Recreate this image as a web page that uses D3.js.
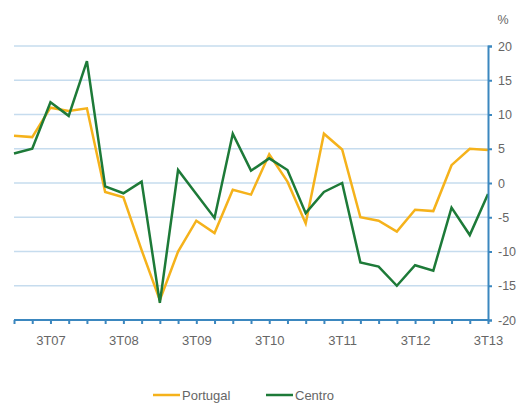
<!DOCTYPE html>
<html>
<head>
<meta charset="utf-8">
<script src="https://cdn.jsdelivr.net/npm/d3@7"></script>
<style>
  body { margin: 0; background: #fff; }
  svg { display: block; font-family: "Liberation Sans", Arial, sans-serif; }
</style>
</head>
<body>
<div id="chart"></div>
<script>
// quarters 1T07 .. 3T13
const quarters = [];
for (let y = 7; y <= 13; y++) {
  for (let q = 1; q <= 4; q++) {
    if (y === 13 && q > 3) break;
    quarters.push(q + 'T' + String(y).padStart(2, '0'));
  }
}
const tickLabels = ['3T07', '3T08', '3T09', '3T10', '3T11', '3T12', '3T13'];
const yTicks = [20, 15, 10, 5, 0, -5, -10, -15, -20];

const portugal = [6.9, 6.7, 11.0, 10.5, 10.9, -1.3, -2.1, -9.8, -17.1, -10.0, -5.5, -7.3, -1.0, -1.7,
  4.2, 0.2, -5.9, 7.2, 4.9, -5.0, -5.5, -7.1, -3.9, -4.1, 2.6, 5.0, 4.8];
const centro = [4.3, 5.0, 11.8, 9.8, 17.8, -0.5, -1.5, 0.2, -17.5, 1.9, -1.6, -5.1, 7.2, 1.8,
  3.6, 1.9, -4.4, -1.3, 0.0, -11.6, -12.2, -15.0, -12.0, -12.8, -3.6, -7.6, -1.6];

const series = [
  { name: 'Portugal', values: portugal, color: '#f5b21b' },
  { name: 'Centro', values: centro, color: '#1d7a38' }
];

const W = 520, H = 405;
const margin = { top: 46, right: 32, bottom: 85, left: 14 };
const width = W - margin.left - margin.right;
const height = H - margin.top - margin.bottom;
const axisColor = '#3b87bf';
const textColor = '#666';

const svg = d3.select('#chart').append('svg')
  .attr('width', W).attr('height', H);
const g = svg.append('g')
  .attr('transform', 'translate(' + margin.left + ',' + margin.top + ')');

const x = d3.scalePoint().domain(quarters).range([0, width]);
const y = d3.scaleLinear().domain([-20, 20]).range([height, 0]);

// gridlines
g.selectAll('.grid').data(yTicks.filter(d => d > -20)).enter()
  .append('line')
  .attr('x1', 0).attr('x2', width)
  .attr('y1', d => y(d)).attr('y2', d => y(d))
  .attr('stroke', '#c6dcee').attr('stroke-width', 1.5);

// lines
const line = d3.line().x((d, i) => x(quarters[i])).y(d => y(d));
series.forEach(s => {
  g.append('path')
    .datum(s.values)
    .attr('fill', 'none')
    .attr('stroke', s.color)
    .attr('stroke-width', 2.5)
    .attr('stroke-linejoin', 'miter')
    .attr('d', line);
});

// right axis
const yAxis = g.append('g')
  .attr('transform', 'translate(' + width + ',0)')
  .call(d3.axisRight(y).tickValues(yTicks).tickSize(4).tickPadding(6).tickFormat(d3.format('d')));
yAxis.select('.domain').attr('stroke', axisColor).attr('stroke-width', 2);
yAxis.selectAll('.tick line').attr('stroke', axisColor).attr('stroke-width', 2);
yAxis.selectAll('text').attr('fill', textColor).style('font-size', '12.5px')
  .text(d => d < 0 ? '-' + Math.abs(d) : d);

// bottom axis
const xAxis = g.append('g')
  .attr('transform', 'translate(0,' + height + ')')
  .call(d3.axisBottom(x).tickSize(4).tickPadding(12)
    .tickFormat(d => tickLabels.includes(d) ? d : ''));
xAxis.select('.domain').attr('stroke', axisColor).attr('stroke-width', 2)
  .attr('d', 'M0,0H' + width);
xAxis.selectAll('.tick line').attr('stroke', axisColor).attr('stroke-width', 2);
xAxis.selectAll('text').attr('fill', textColor).style('font-size', '13px');

// unit
svg.append('text')
  .attr('x', 503).attr('y', 24)
  .attr('text-anchor', 'middle')
  .attr('fill', textColor).style('font-size', '12.5px')
  .text('%');

// legend (sits a touch higher than the reference so the text is not clipped)
const legend = svg.selectAll('.legend').data(series).enter()
  .append('g')
  .attr('transform', (d, i) => 'translate(' + (153 + i * 113) + ',395)');
legend.append('line')
  .attr('x1', 0).attr('x2', 27)
  .attr('stroke', d => d.color).attr('stroke-width', 2.5);
legend.append('text')
  .attr('x', 29).attr('dy', '0.35em')
  .attr('fill', textColor).style('font-size', '13px')
  .text(d => d.name);
</script>
</body>
</html>
